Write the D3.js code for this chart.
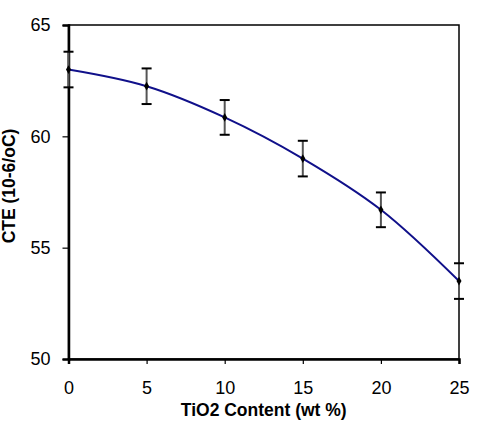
<!DOCTYPE html>
<html>
<head>
<meta charset="utf-8">
<script src="https://cdn.jsdelivr.net/npm/d3@7"></script>
<style>
  html, body { margin: 0; padding: 0; background: #fff; }
  svg { display: block; }
  text { font-family: "Liberation Sans", Arial, sans-serif; fill: #000; }
</style>
</head>
<body>
<svg id="chart" width="485" height="432"></svg>
<script>
const tio2 = [0, 5, 10, 15, 20, 25];
const cte = [63.0, 62.25, 60.85, 59.0, 56.7, 53.5];
const errs = [0.8, 0.8, 0.78, 0.8, 0.78, 0.8];
const xTicks = [0, 5, 10, 15, 20, 25];
const yTicks = [50, 55, 60, 65];
const xTitle = "TiO2 Content (wt %)";
const yTitle = "CTE (10-6/oC)";

const W = 485, H = 432;
const L = 68.5, R = 459, T = 25, B = 359;
const svg = d3.select("#chart");

const x = d3.scaleLinear().domain([0, 25]).range([L, R]);
const y = d3.scaleLinear().domain([50, 65]).range([B, T]);

// plot frame
svg.append("rect").attr("x", L).attr("y", T).attr("width", R - L).attr("height", B - T)
  .attr("fill", "none").attr("stroke", "#000").attr("stroke-width", 1.5);

// axes
const yAxis = svg.append("g").attr("transform", `translate(${L},0)`)
  .call(d3.axisLeft(y).tickValues(yTicks).tickSize(6).tickPadding(12));
const xAxis = svg.append("g").attr("transform", `translate(0,${B})`)
  .call(d3.axisBottom(x).tickValues(xTicks).tickSize(5).tickPadding(17));
[yAxis, xAxis].forEach(g => {
  g.select(".domain").attr("stroke", "#000").attr("stroke-width", 2.5);
  g.selectAll(".tick line").attr("stroke", "#000").attr("stroke-width", 1.2);
  g.selectAll(".tick text").attr("font-size", 18).attr("font-family", "Liberation Sans, Arial, sans-serif").attr("fill", "#000");
});

// line
const line = d3.line().x((d, i) => x(tio2[i])).y(d => y(d)).curve(d3.curveCatmullRom.alpha(0.5));
svg.append("path").datum(cte).attr("d", line)
  .attr("fill", "none").attr("stroke", "#10108a").attr("stroke-width", 2);

// error bars
const eb = svg.append("g");
cte.forEach((v, i) => {
  const cx = x(tio2[i]);
  eb.append("line").attr("x1", cx).attr("x2", cx).attr("y1", y(v + errs[i])).attr("y2", y(v - errs[i]))
    .attr("stroke", "#555").attr("stroke-width", 2);
  [v + errs[i], v - errs[i]].forEach(e => {
    eb.append("line").attr("x1", cx - 5).attr("x2", cx + 5).attr("y1", y(e)).attr("y2", y(e))
      .attr("stroke", "#000").attr("stroke-width", 2);
  });
});

// markers
svg.append("g").selectAll("path").data(cte).join("path")
  .attr("transform", (d, i) => `translate(${x(tio2[i])},${y(d)})`)
  .attr("d", d3.symbol(d3.symbolDiamond, 22))
  .attr("fill", "#000");

// titles
svg.append("text").attr("x", (L + R) / 2).attr("y", 416).attr("text-anchor", "middle")
  .attr("font-size", 17.5).attr("font-weight", "bold").text(xTitle);
svg.append("text").attr("transform", `translate(15,186) rotate(-90)`).attr("text-anchor", "middle")
  .attr("font-size", 17.5).attr("font-weight", "bold").text(yTitle);
</script>
</body>
</html>
